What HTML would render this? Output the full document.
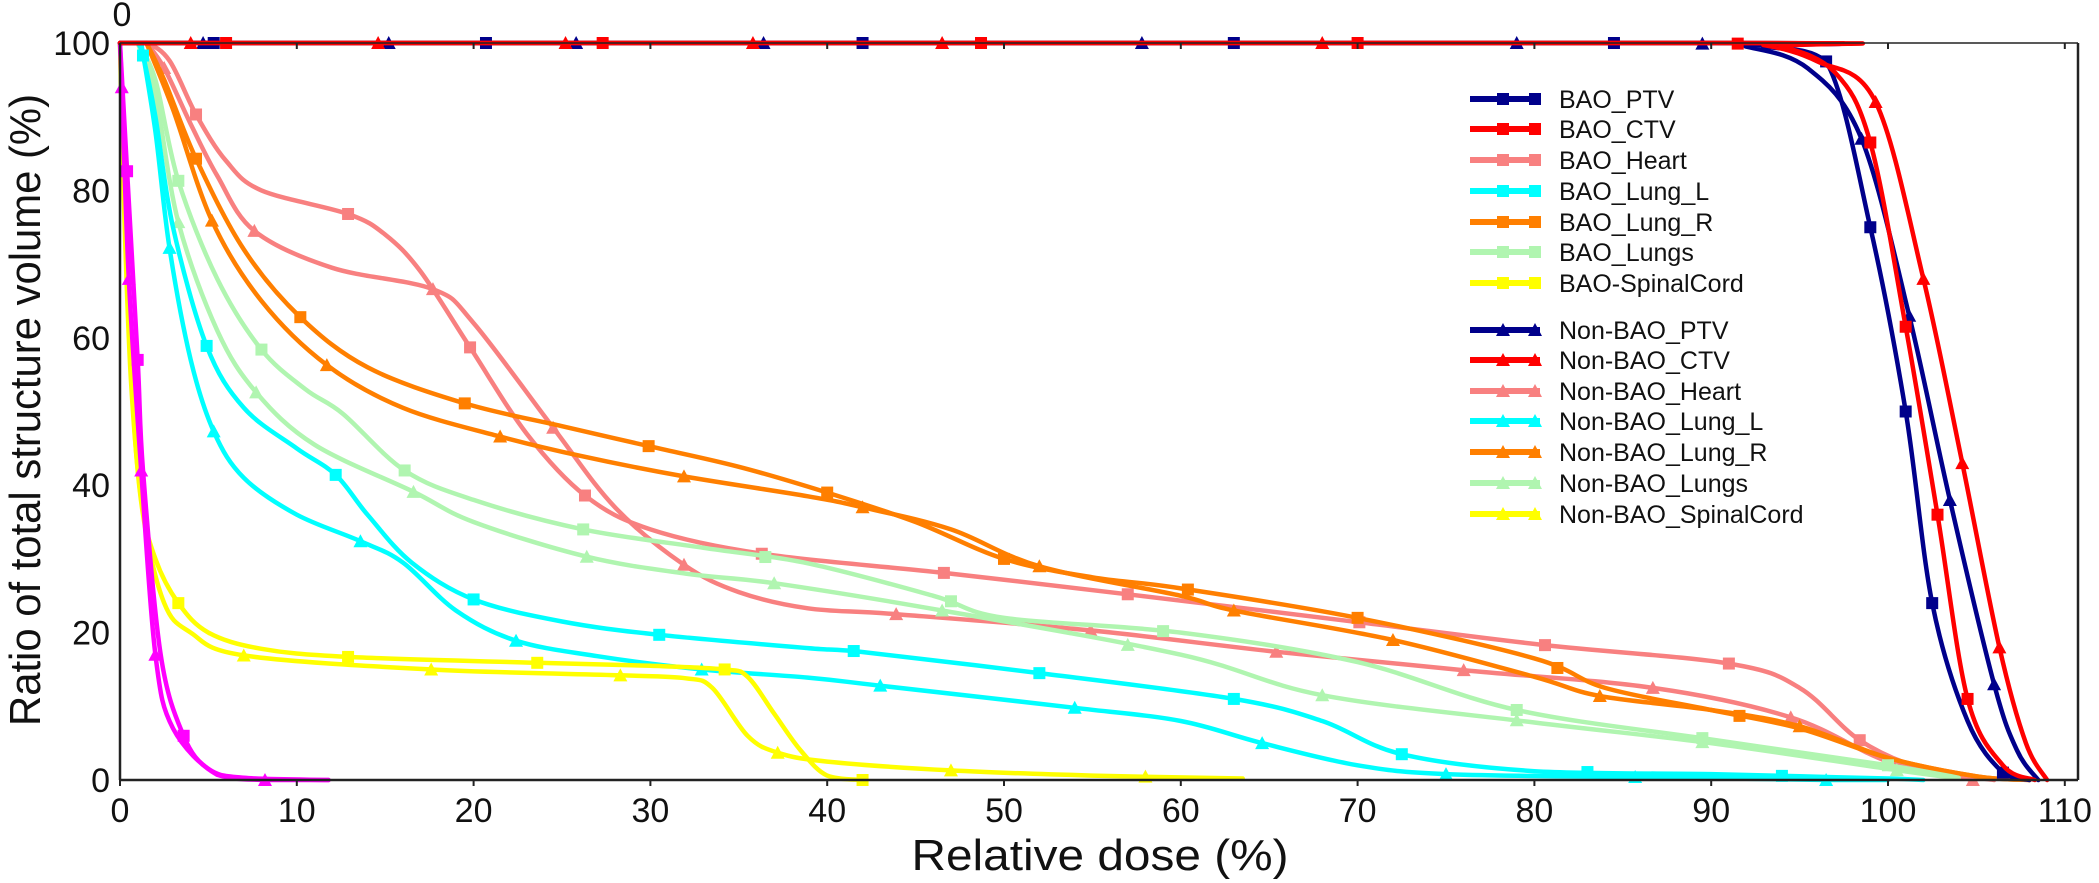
<!DOCTYPE html>
<html><head><meta charset="utf-8"><style>
html,body{margin:0;padding:0;background:#fff;}
svg{display:block;font-family:"Liberation Sans",Arial,sans-serif;}
</style></head><body>
<svg id="chart" width="2099" height="883" viewBox="0 0 2099 883" xmlns="http://www.w3.org/2000/svg">
<g id="plot"></g>
<g id="axes"></g>
<g id="legend"></g>
</svg>
<script>
const xTicks=[0,10,20,30,40,50,60,70,80,90,100,110];
const yTicks=[0,20,40,60,80,100];
const xTitle="Relative dose (%)";
const yTitle="Ratio of total structure volume  (%)";
const seriesNames=["BAO_PTV","BAO_CTV","BAO_Heart","BAO_Lung_L","BAO_Lung_R","BAO_Lungs","BAO-SpinalCord","Non-BAO_PTV","Non-BAO_CTV","Non-BAO_Heart","Non-BAO_Lung_L","Non-BAO_Lung_R","Non-BAO_Lungs","Non-BAO_SpinalCord","BAO_Body","Non-BAO_Body"];
const seriesColors=["#00008b","#ff0000","#f88080","#00ffff","#ff7f00","#b0f5b0","#ffff00","#00008b","#ff0000","#f88080","#00ffff","#ff7f00","#b0f5b0","#ffff00","#ff00ff","#ff00ff"];
const seriesMarkers=["sq","sq","sq","sq","sq","sq","sq","tri","tri","tri","tri","tri","tri","tri","sq","tri"];
const inLegend=[1,1,1,1,1,1,1,1,1,1,1,1,1,1,0,0];
const dBAO_PTV=[0,90,93,96.5,99,101,102.5,104.5,106.5,108];
const vBAO_PTV=[100,100,99.5,97.5,75,50,24,8,1,0];
const dBAO_CTV=[0,91,94,97,99,101,102.8,104.5,106.5,108.3];
const vBAO_CTV=[100,100,99.5,96,86.5,61.5,36,11,2,0];
const dBAO_Heart=[0.5,1.5,2.8,4.3,6,8,12.9,15,17,19.8,23,26.3,30,36.3,46.6,57,70.1,80.6,91,95,98.4,102,106];
const vBAO_Heart=[100,100,97.6,90.3,84,80,76.8,74,69,58.7,47,38.6,34,30.7,28.1,25.2,21.4,18.3,15.8,12.5,5.4,1.5,0];
const dBAO_Lung_L=[1,1.3,2,3,4.9,7,10,12.2,14,16.5,20,25,30.5,38.9,41.5,52,63,68,72.5,80,90,95,100,102];
const vBAO_Lung_L=[100,98.3,90,75,58.9,50.5,45,41.4,36,29.5,24.5,21.5,19.7,17.9,17.5,14.5,11,8,3.5,1.2,0.8,0.5,0.2,0];
const dBAO_Lung_R=[1.5,2.5,4.3,7,10.2,14,19.5,25,29.9,35,40,45,50,55,60,70,80,84,90,95,100,105,108];
const vBAO_Lung_R=[100,95,84.3,72,62.8,56,51.1,48,45.3,42.5,39,35,30,27.5,26,22,16.5,12.5,9.5,7,3,0.5,0];
const dBAO_Lungs=[1,2,3.3,5.5,8,10.5,12.6,16.1,20,26.2,33,38.9,46,50,60,70,79,90,100,104];
const vBAO_Lungs=[100,95,81.3,68,58.4,53,49.7,42,38,34,31.5,29.4,25,22,20,16,9.5,5.5,2,0.3];
const dBAO_Spinal=[0,0.2,0.6,1.2,2,3.3,5,8,12.9,23.6,30,34.2,35.5,37,38.5,40,42];
const vBAO_Spinal=[100,80,55,38,30,24,20,17.8,16.7,15.9,15.5,15,14,9,4,0.6,0];
const dNB_PTV=[0,89,92,95.5,98.5,101.2,103.5,106,107.3,108.5];
const vNB_PTV=[100,100,99.5,96.5,87,63,38,13,4,0];
const dNB_CTV=[0,90,93,96,99.3,102,104.2,106.3,107.8,109];
const vNB_CTV=[100,100,99.7,97.5,92,68,43,18,5,0];
const dNB_Heart=[1.5,2.5,4,5.5,7.6,12,17.7,20,24.5,28,31.9,35,38.9,43.9,54.9,65.4,76,86.7,94.5,100,104.8];
const vNB_Heart=[100,96.6,89,82,74.5,69.5,66.6,62,47.8,37,29.2,25.5,23.3,22.5,20.3,17.4,14.9,12.5,8.5,2.5,0];
const dNB_Lung_L=[1.2,2,2.8,4,5.3,7,10,13.6,16,19,22.4,27,32.9,38.9,43,54,60,64.6,70,75,85.7,96.5,100];
const vNB_Lung_L=[100,88,72.2,57,47.3,41,36,32.4,29.5,23,18.9,16.8,15,13.9,12.8,9.8,8,5,2,0.8,0.4,0,0];
const dNB_Lung_R=[1.5,3,5.2,8,11.7,16,21.5,26,31.9,38.9,42,47,52,60,63,72,80,83.7,90,95,100,105,108];
const vNB_Lung_R=[100,91,75.9,65,56.3,50.5,46.6,44,41.2,38.5,37,34,29,25,23,19,14,11.4,9.5,7.3,3,0.5,0];
const dNB_Lungs=[1,2,3.3,5.5,7.7,11,16.6,20,26.4,32,37,46.5,60,68,80,90,100,104];
const vNB_Lungs=[100,93,75.7,61,52.6,45.5,39.1,35,30.3,28,26.7,23,17,11.5,7.8,5,1.5,0.2];
const dNB_Spinal=[0,0.3,0.7,1.3,2.5,4,7,17.6,28.3,32,33.5,35.5,37.2,40,47,55,63.5];
const vNB_Spinal=[100,75,52,36,24,20,16.9,15,14.2,13.8,12.5,6,3.7,2.5,1.3,0.6,0.2];
const dBAO_Body=[0,0.4,1,1.3,2.3,3.6,5,7,11.8];
const vBAO_Body=[100,82.6,57,42,17,6,1.5,0.3,0];
const dNB_Body=[0,0.1,0.5,1.2,2,3,5.5,8.2,11.8];
const vNB_Body=[100,94,68,42,17,7,0.7,0,0];
const seriesDoses=[dBAO_PTV,dBAO_CTV,dBAO_Heart,dBAO_Lung_L,dBAO_Lung_R,dBAO_Lungs,dBAO_Spinal,dNB_PTV,dNB_CTV,dNB_Heart,dNB_Lung_L,dNB_Lung_R,dNB_Lungs,dNB_Spinal,dBAO_Body,dNB_Body];
const seriesVols=[vBAO_PTV,vBAO_CTV,vBAO_Heart,vBAO_Lung_L,vBAO_Lung_R,vBAO_Lungs,vBAO_Spinal,vNB_PTV,vNB_CTV,vNB_Heart,vNB_Lung_L,vNB_Lung_R,vNB_Lungs,vNB_Spinal,vBAO_Body,vNB_Body];
const mBAO_PTV=[5.3,20.7,42,63,84.5,96.5,99,101,102.5,106.5];
const mBAO_CTV=[6,27.3,48.7,70,91.5,99,101,102.8,104.5];
const mBAO_Heart=[4.3,12.9,19.8,26.3,36.3,46.6,57,70.1,80.6,91,98.4];
const mBAO_Lung_L=[1.3,4.9,12.2,20,30.5,41.5,52,63,72.5,83,94];
const mBAO_Lung_R=[4.3,10.2,19.5,29.9,40,50,60.4,70,81.3,91.6];
const mBAO_Lungs=[3.3,8,16.1,26.2,36.5,47,59,79,89.5,100];
const mBAO_Spinal=[3.3,12.9,23.6,34.2,42];
const mNB_PTV=[4.7,15.2,25.8,36.4,57.8,79,89.5,98.5,101.2,103.5,106];
const mNB_CTV=[4,14.6,25.2,35.8,46.5,68,99.3,102,104.2,106.3];
const mNB_Heart=[2.5,7.6,17.7,24.5,31.9,43.9,54.9,65.4,76,86.7,94.5,104.8];
const mNB_Lung_L=[2.8,5.3,13.6,22.4,32.9,43,54,64.6,75,85.7,96.5];
const mNB_Lung_R=[5.2,11.7,21.5,31.9,42,52,63,72,83.7,95];
const mNB_Lungs=[3.3,7.7,16.6,26.4,37,46.5,57,68,79,89.5,100.5];
const mNB_Spinal=[7,17.6,28.3,37.2,47,58];
const mBAO_Body=[0.4,1,3.6];
const mNB_Body=[0.1,0.5,1.2,2,8.2];
const seriesMarkDoses=[mBAO_PTV,mBAO_CTV,mBAO_Heart,mBAO_Lung_L,mBAO_Lung_R,mBAO_Lungs,mBAO_Spinal,mNB_PTV,mNB_CTV,mNB_Heart,mNB_Lung_L,mNB_Lung_R,mNB_Lungs,mNB_Spinal,mBAO_Body,mNB_Body];

const NS="http://www.w3.org/2000/svg";
const X0=120,XS=17.68,Y0=780,YS=7.37;
function xs(d){return X0+d*XS;}
function ys(v){return Y0-v*YS;}
function mk(tag,attrs,parent){const e=document.createElementNS(NS,tag);for(const k in attrs)e.setAttribute(k,attrs[k]);parent.appendChild(e);return e;}
function interp(ds,vs,d){if(d<=ds[0])return vs[0];for(let i=1;i<ds.length;i++){if(d<=ds[i]){const t=(d-ds[i-1])/(ds[i]-ds[i-1]);return vs[i-1]+t*(vs[i]-vs[i-1]);}}return vs[vs.length-1];}
function pathFor(ds,vs){
  const p=ds.map((d,i)=>[xs(d),ys(vs[i])]);
  let s="M"+p[0][0].toFixed(1)+","+p[0][1].toFixed(1);
  for(let i=0;i<p.length-1;i++){
    const a=p[Math.max(0,i-1)],b=p[i],c=p[i+1],e=p[Math.min(p.length-1,i+2)];
    const k=1/6;
    let c1x=b[0]+(c[0]-a[0])*k,c1y=b[1]+(c[1]-a[1])*k,c2x=c[0]-(e[0]-b[0])*k,c2y=c[1]-(e[1]-b[1])*k;
    const lo=Math.min(b[1],c[1]),hi=Math.max(b[1],c[1]);
    c1y=Math.min(hi,Math.max(lo,c1y));c2y=Math.min(hi,Math.max(lo,c2y));
    s+=" C"+c1x.toFixed(1)+","+c1y.toFixed(1)+" "+c2x.toFixed(1)+","+c2y.toFixed(1)+" "+c[0].toFixed(1)+","+c[1].toFixed(1);
  }
  return s;
}
function marker(type,x,y,col,parent){
  let m;
  if(type==="sq"){m=mk("rect",{x:x-6,y:y-6,width:12,height:12,fill:col},parent);}
  else{m=mk("polygon",{points:(x-7)+","+(y+6)+" "+(x+7)+","+(y+6)+" "+x+","+(y-7),fill:col},parent);}
  return m;
}
const plot=document.getElementById("plot");
const order=[2,9,4,11,5,12,3,10,6,13,14,15,0,7,1,8];
order.forEach(i=>{
  const g=mk("g",{},plot);
  
  
  const pth=mk("path",{d:pathFor(seriesDoses[i],seriesVols[i]),fill:"none",stroke:seriesColors[i],"stroke-width":4.5,"stroke-linejoin":"round","stroke-linecap":"round"},g);
  
  
  seriesMarkDoses[i].forEach(d=>{
    const m=marker(seriesMarkers[i],xs(d),ys(interp(seriesDoses[i],seriesVols[i],d)),seriesColors[i],g);
    
    
  });
});
const axes=document.getElementById("axes");
const xl=mk("line",{x1:X0,y1:Y0,x2:2078,y2:Y0,stroke:"#222","stroke-width":2.5},axes);


const yl=mk("line",{x1:X0,y1:Y0,x2:X0,y2:ys(100),stroke:"#222","stroke-width":2.5},axes);


const rl=mk("line",{x1:2078,y1:Y0,x2:2078,y2:ys(100),stroke:"#222","stroke-width":2.5},axes);


const tl=mk("line",{x1:X0,y1:ys(100),x2:2078,y2:ys(100),stroke:"#222","stroke-width":1.5},axes);


xTicks.forEach(t=>{
  mk("line",{x1:xs(t),y1:Y0,x2:xs(t),y2:Y0+6,stroke:"#222","stroke-width":2},axes);
  mk("line",{x1:xs(t),y1:ys(100),x2:xs(t),y2:ys(100)+6,stroke:"#222","stroke-width":2},axes);
  const tx=mk("text",{x:xs(t),y:822,"text-anchor":"middle","font-size":34,fill:"#111"},axes);
  tx.textContent=t;
  
  
});
yTicks.forEach(t=>{
  const tx=mk("text",{x:110,y:ys(t)+12,"text-anchor":"end","font-size":34,fill:"#111"},axes);
  tx.textContent=t;
  
  
});
const z=mk("text",{x:122,y:26,"text-anchor":"middle","font-size":34,fill:"#111"},axes);
z.textContent="0";


const xt=mk("text",{x:1100,y:870,"text-anchor":"middle","font-size":44,fill:"#111",textLength:377,lengthAdjust:"spacingAndGlyphs"},axes);
xt.textContent=xTitle;


const yt=mk("text",{x:0,y:0,"text-anchor":"middle","font-size":44,fill:"#111",textLength:632,lengthAdjust:"spacingAndGlyphs",transform:"translate(40,410) rotate(-90)"},axes);
yt.textContent=yTitle;


const legend=document.getElementById("legend");
const rowY=[99,129,160,191,222,252,283,330,360,391,421,452,483,514];
let r=0;
seriesNames.forEach((n,i)=>{
  if(!inLegend[i])return;
  const y=rowY[r++];
  const g=mk("g",{},legend);
  
  
  mk("line",{x1:1470,y1:y,x2:1540,y2:y,stroke:seriesColors[i],"stroke-width":6},g);
  marker(seriesMarkers[i],1503,y,seriesColors[i],g);
  marker(seriesMarkers[i],1535,y,seriesColors[i],g);
  const t=mk("text",{x:1559,y:y+9,"font-size":25,fill:"#111"},g);
  t.textContent=n;
});
</script>
</body></html>
